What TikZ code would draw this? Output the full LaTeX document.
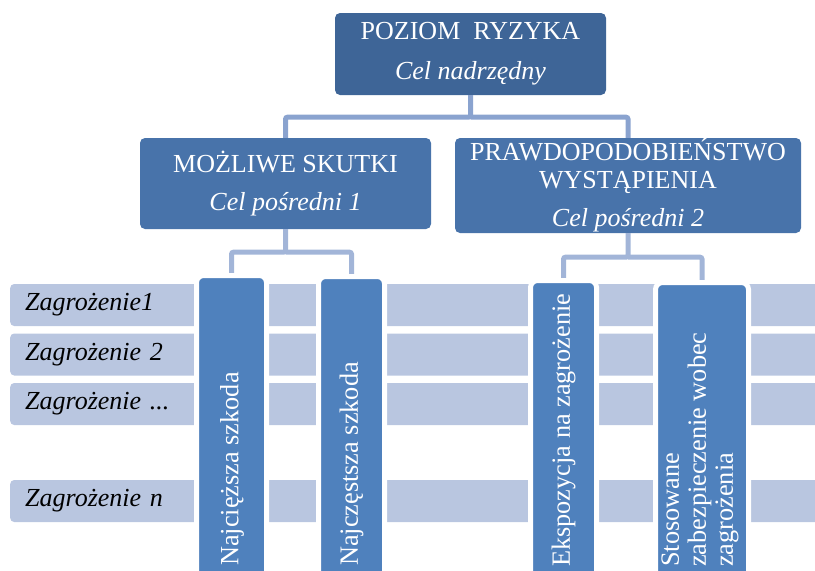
\documentclass[tikz,border=0pt]{standalone}
\usepackage{fontspec}
\setmainfont{Liberation Serif}
\definecolor{topc}{HTML}{3E6597}
\definecolor{midc}{HTML}{4873AA}
\definecolor{colc}{HTML}{4F81BD}
\definecolor{rowc}{HTML}{B9C6E0}
\definecolor{connA}{HTML}{8AA3CF}
\definecolor{connB}{HTML}{A2B5D8}
\begin{document}
\begin{tikzpicture}[x=1pt,y=-1pt,
  hbox/.style={rounded corners=5, text=white, align=center, inner sep=0pt,
    font=\fontsize{26}{30}\selectfont},
  rowbox/.style={fill=rowc, rounded corners=4, anchor=west, minimum width=830pt,
    minimum height=42pt, text width=800pt, align=left, inner xsep=15pt, inner ysep=0pt,
    font=\fontsize{26}{30}\selectfont\itshape},
  colbox/.style={fill=colc, draw=white, line width=5pt, rounded corners=7, anchor=north,
    minimum height=360pt, outer sep=0pt, inner sep=0pt},
  coltext/.style={text=white, rotate=90, anchor=west, inner sep=0pt, align=left,
    font=\fontsize{26.3}{27}\selectfont},
  connA/.style={draw=connA, line width=5pt, rounded corners=2},
  connB/.style={draw=connB, line width=5pt, rounded corners=2}]
\useasboundingbox (0,0) rectangle (815,571);
\clip (0,0) rectangle (815,571);
% header boxes
\node[hbox, fill=topc, minimum width=271pt, minimum height=82pt] (top) at (470.5,54)
  {POZIOM\ \ RYZYKA\\[10pt]\textit{Cel nadrzędny}};
\node[hbox, fill=midc, minimum width=291pt, minimum height=91pt] (mid1) at (285.5,183.5)
  {MOŻLIWE SKUTKI\\[8pt]\textit{Cel pośredni 1}};
\node[hbox, fill=midc, minimum width=346pt, minimum height=95pt] (mid2) at (628,185.5)
  {PRAWDOPODOBIEŃSTWO\\[-2pt]WYSTĄPIENIA\\[8pt]\textit{Cel pośredni 2}};
% upper connectors
\draw[connA] (top.south) -- ++(0,22) coordinate (j1) -| (mid1.north);
\draw[connA] (j1) -| (mid2.north);
% rows
\node[rowbox] (r1) at (10,305) {Zagrożenie1};
\node[rowbox] (r2) at (10,354.5) {Zagrożenie 2};
\node[rowbox] (r3) at (10,404) {Zagrożenie ...};
\node[rowbox] (r4) at (10,501) {Zagrożenie n};
% column positions
\coordinate (p1) at (231.5,275.5);
\coordinate (p2) at (351.5,276.5);
\coordinate (p3) at (563.5,280.5);
\coordinate (p4) at (702,282.5);
% lower connectors
\draw[connB] (mid1.south) -- ++(0,23) coordinate (j2) -| (p1);
\draw[connB] (j2) -| (p2);
\draw[connB] (mid2.south) -- ++(0,24) coordinate (j3) -| (p3);
\draw[connB] (j3) -| (p4);
% columns
\node[colbox, minimum width=70pt] (c1) at (p1) {};
\node[colbox, minimum width=66pt] (c2) at (p2) {};
\node[colbox, minimum width=66pt] (c3) at (p3) {};
\node[colbox, minimum width=93pt] (c4) at (p4) {};
% column texts
\node[coltext] (t1) at (232,566) {Najcięższa szkoda};
\node[coltext] (t2) at (351.5,566) {Najczęstsza szkoda};
\node[coltext] (t3) at (563.5,567) {Ekspozycja na zagrożenie};
\node[coltext] (t4) at (700,567) {Stosowane\\zabezpieczenie wobec\\zagrożenia};
\end{tikzpicture}
\end{document}
